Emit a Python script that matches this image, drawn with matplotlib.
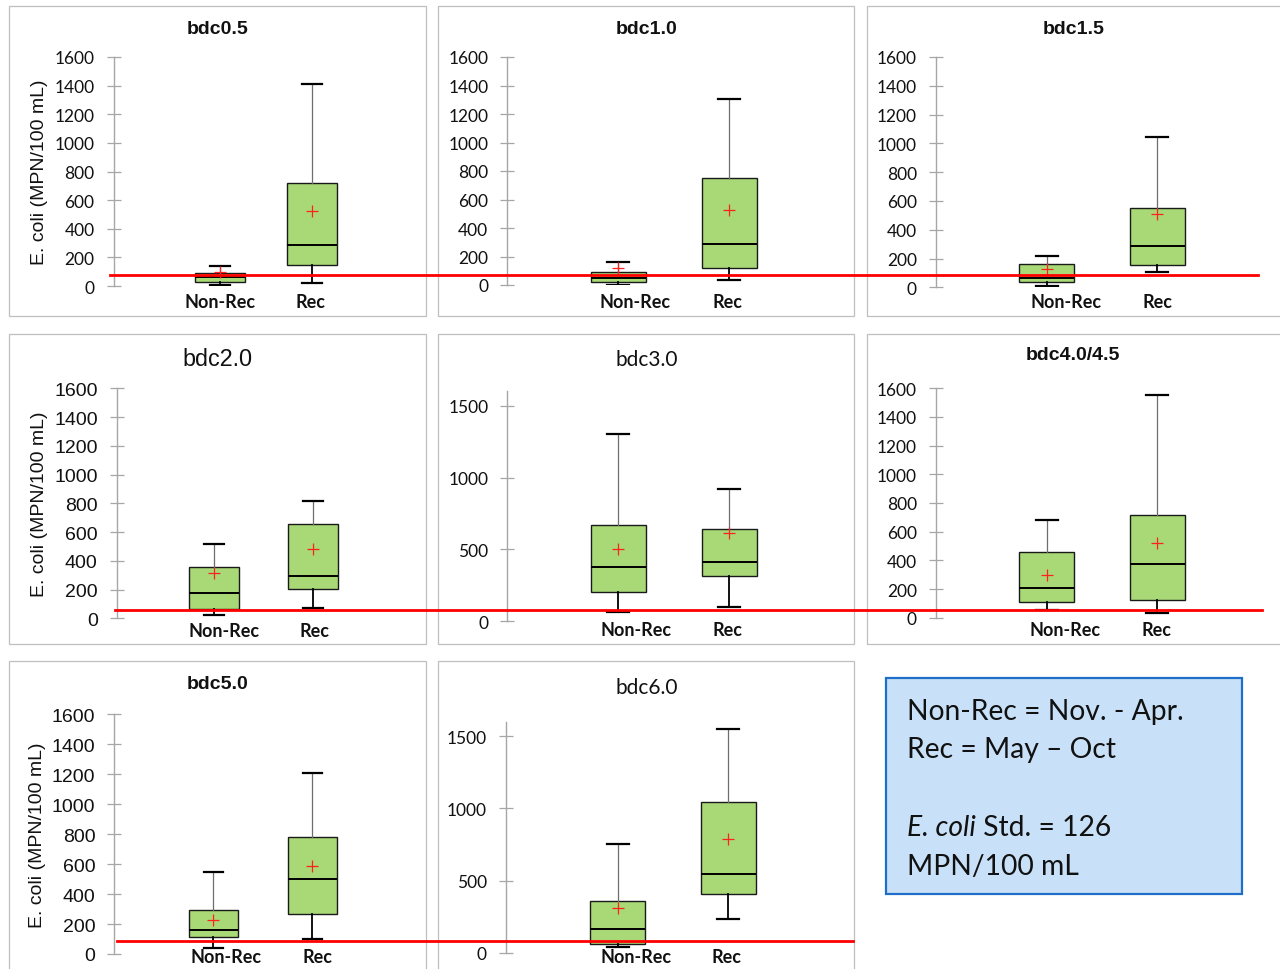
import matplotlib
matplotlib.use("Agg")
import matplotlib.pyplot as plt
from matplotlib.patches import Rectangle
from matplotlib.lines import Line2D
from matplotlib.transforms import ScaledTranslation, blended_transform_factory

# ---------------- data ----------------
categories = ["Non-Rec", "Rec"]
panel_titles = ["bdc0.5", "bdc1.0", "bdc1.5", "bdc2.0", "bdc3.0",
                "bdc4.0/4.5", "bdc5.0", "bdc6.0"]

nonrec_whislo = [9, 2, 11, 23, 67, 55, 42, 44]
nonrec_q1     = [26, 19, 39, 62, 201, 110, 111, 65]
nonrec_med    = [61, 47, 65, 178, 375, 205, 162, 165]
nonrec_q3     = [89, 89, 162, 357, 667, 460, 296, 360]
nonrec_whishi = [142, 161, 220, 515, 1301, 684, 547, 755]
nonrec_mean   = [100, 117, 127, 315, 504, 298, 229, 308]

rec_whislo = [23, 35, 108, 70, 97, 31, 100, 234]
rec_q1     = [145, 122, 155, 204, 312, 126, 267, 408]
rec_med    = [284, 290, 289, 296, 410, 377, 502, 546]
rec_q3     = [717, 749, 553, 658, 639, 714, 782, 1045]
rec_whishi = [1411, 1303, 1046, 814, 919, 1552, 1207, 1551]
rec_mean   = [524, 524, 511, 484, 613, 523, 587, 790]

y_max = 1600
y_tick_steps = [200, 200, 200, 200, 500, 200, 200, 500]
ylabel_text = "E. coli (MPN/100 mL)"

# reference (red) line level per row, in data units of that row's first panel
std_line_values = [78, 60, 87]

legend_lines = ["Non-Rec = Nov. - Apr.", "Rec = May \u2013 Oct"]
std_italic = "E. coli"
std_rest = " Std. = 126"
std_units = "MPN/100 mL"

# ---------------- layout (pixels) ----------------
W, H = 1280, 970
fig = plt.figure(figsize=(W / 100, H / 100), dpi=100)

def fx(x):
    return x / W

def fy(y):
    return 1 - y / H

ARIAL = "Liberation Sans"
CAL = "Lato"

panels = [
    dict(frame=(9.3, 6.7, 425.7, 316.7), L=113.5, y0=287, yt=58, c1=220, c2=312, bw=50,
         title=(29, ARIAL, "bold", 14), tf=(CAL, 12.5), d=16, dx=(0, -1), row=0, ylab=(40, ARIAL)),
    dict(frame=(438.3, 6.7, 854.3, 316.7), L=507.3, y0=286, yt=58, c1=618.3, c2=729, bw=55,
         title=(29, ARIAL, "bold", 14), tf=(CAL, 12.5), d=16.7, dx=(17, -2), row=0, ylab=None),
    dict(frame=(866.7, 6.7, 1290, 316.7), L=936, y0=288.3, yt=58, c1=1046.7, c2=1157.3, bw=55,
         title=(29, ARIAL, "bold", 14), tf=(CAL, 12.5), d=14.4, dx=(19, 0), row=0, ylab=None),
    dict(frame=(9.3, 335, 425.7, 645), L=116.7, y0=619.3, yt=389.3, c1=214.3, c2=312.7, bw=50,
         title=(359.3, ARIAL, "normal", 16.8), tf=(ARIAL, 14), d=12.4, dx=(10, 2), row=1, ylab=(39.3, ARIAL)),
    dict(frame=(438.3, 335, 854.3, 645), L=507.3, y0=622.3, yt=392.3, c1=618.3, c2=729, bw=55,
         title=(360, CAL, "normal", 15), tf=(CAL, 12.5), d=8.7, dx=(18, -2), row=1, ylab=None),
    dict(frame=(866.7, 335, 1290, 645), L=936, y0=618.7, yt=389.3, c1=1046.7, c2=1157.3, bw=55,
         title=(356, ARIAL, "bold", 14), tf=(CAL, 12.5), d=12.3, dx=(18, -1), row=1, ylab=None),
    dict(frame=(9.3, 662.3, 425.7, 990), L=114.3, y0=955, yt=715, c1=213.3, c2=312.3, bw=49,
         title=(684.3, ARIAL, "bold", 14), tf=(ARIAL, 14), d=2.7, dx=(13, 5), row=2, ylab=(37.3, ARIAL)),
    dict(frame=(438.3, 662.3, 854.3, 990), L=506, y0=954, yt=722.7, c1=617.7, c2=728.3, bw=55,
         title=(688.3, CAL, "normal", 15), tf=(CAL, 12.5), d=3.7, dx=(18, -2), row=2, ylab=None),
]

red_line_x = [(110, 1258), (115, 1262), (117, 853)]

BOX_FACE = "#A9D976"
AXIS_GREY = "#A6A6A6"

row_first_ax = {}

for i, p in enumerate(panels):
    x0, y0f, x1, y1f = p["frame"]
    fig.add_artist(Rectangle((fx(x0), fy(y1f)), (x1 - x0) / W, (y1f - y0f) / H,
                             transform=fig.transFigure, fill=False,
                             edgecolor="#BFBFBF", linewidth=0.9, zorder=1))

    L, R = p["L"], p["L"] + 290
    ax = fig.add_axes([fx(L), fy(p["y0"]), (R - L) / W, (p["y0"] - p["yt"]) / H])
    ax.patch.set_visible(False)
    s = p["c2"] - p["c1"]
    lo = 1 - (p["c1"] - L) / s
    hi = 1 + (R - p["c1"]) / s
    ax.set_xlim(lo, hi)
    ax.set_ylim(0, y_max)

    stats = [
        dict(whislo=nonrec_whislo[i], q1=nonrec_q1[i], med=nonrec_med[i], q3=nonrec_q3[i],
             whishi=nonrec_whishi[i], mean=nonrec_mean[i], fliers=[], label=categories[0]),
        dict(whislo=rec_whislo[i], q1=rec_q1[i], med=rec_med[i], q3=rec_q3[i],
             whishi=rec_whishi[i], mean=rec_mean[i], fliers=[], label=categories[1]),
    ]
    w = p["bw"] / s
    art = ax.bxp(stats, positions=[1, 2], widths=w, capwidths=0.4 * w,
                 patch_artist=True, showmeans=True, showfliers=False, manage_ticks=False,
                 boxprops=dict(facecolor=BOX_FACE, edgecolor="#1A1A1A", linewidth=1.0),
                 medianprops=dict(color="black", linewidth=1.4),
                 whiskerprops=dict(color="#333333", linewidth=1.0),
                 capprops=dict(color="black", linewidth=1.6),
                 meanprops=dict(marker="+", markeredgecolor="#FF2020", markersize=8,
                                markeredgewidth=0.9))
    # upper whiskers lighter grey, lower whiskers black
    for j, wl in enumerate(art["whiskers"]):
        if j % 2 == 1:
            wl.set_color("#6E6E6E")
            wl.set_linewidth(0.9)
        else:
            wl.set_color("black")
            wl.set_linewidth(1.3)

    for side in ("top", "right", "bottom"):
        ax.spines[side].set_visible(False)
    ax.spines["left"].set_color(AXIS_GREY)
    ax.spines["left"].set_linewidth(1.0)
    ax.set_yticks(list(range(0, y_max + 1, y_tick_steps[i])))
    ax.set_xticks([])
    ax.tick_params(axis="y", direction="inout", length=9.4, width=0.9, color=AXIS_GREY,
                   pad=9.0, labelsize=p["tf"][1], labelcolor="#111111")
    for lab in ax.get_yticklabels():
        lab.set_fontfamily(p["tf"][0])

    # category labels
    for k, cat in enumerate(categories):
        tr = ax.transData + ScaledTranslation(p["dx"][k] / 100, -p["d"] / 100, fig.dpi_scale_trans)
        ax.text(k + 1, 0, cat, transform=tr, ha="center", va="center",
                fontfamily=CAL, fontweight="bold", fontsize=13, color="#111111", clip_on=False)

    # title
    ty, tfam, tw, tsz = p["title"]
    cx = (x0 + min(x1, 1280)) / 2
    fig.text(fx(cx), fy(ty), panel_titles[i], ha="center", va="center", fontfamily=tfam,
             fontweight=tw, fontsize=tsz, color="#111111")

    if p["ylab"] is not None:
        ax.set_ylabel(ylabel_text, fontfamily=p["ylab"][1], fontsize=14, color="#111111")
        ax.yaxis.label.set(ha="center", va="center", rotation_mode="anchor")
        ax.yaxis.set_label_coords((p["ylab"][0] - L) / (R - L), 0.5)

    if p["row"] not in row_first_ax:
        row_first_ax[p["row"]] = ax

# red reference lines
for r, val in enumerate(std_line_values):
    ax0 = row_first_ax[r]
    tr = blended_transform_factory(fig.transFigure, ax0.transData)
    xa, xb = red_line_x[r]
    fig.add_artist(Line2D([fx(xa), fx(xb)], [val, val], transform=tr,
                          color="#FF0000", linewidth=2.0, zorder=5))

# legend text box
bx0, by0, bx1, by1 = 885.7, 679, 1242.3, 895
fig.add_artist(Rectangle((fx(bx0), fy(by1)), (bx1 - bx0) / W, (by1 - by0) / H,
                         transform=fig.transFigure, facecolor="#C9E1F8",
                         edgecolor="#1F6FC8", linewidth=1.6, zorder=1))
tx = fx(907.3)
fs_box = 20.3
fig.text(tx, fy(711.7), legend_lines[0], ha="left", va="center", fontfamily=CAL,
         fontsize=fs_box, color="#111111", zorder=3)
fig.text(tx, fy(750), legend_lines[1], ha="left", va="center", fontfamily=CAL,
         fontsize=fs_box, color="#111111", zorder=3)
t_it = fig.text(tx, fy(828.3), std_italic, ha="left", va="center", fontfamily=CAL,
                fontstyle="italic", fontsize=fs_box, color="#111111", zorder=3)
renderer = fig.canvas.get_renderer()
bb = t_it.get_window_extent(renderer=renderer)
fig.text(bb.x1 / W, fy(828.3), std_rest, ha="left", va="center", fontfamily=CAL,
         fontsize=fs_box, color="#111111", zorder=3)
fig.text(tx, fy(866.7), std_units, ha="left", va="center", fontfamily=CAL,
         fontsize=fs_box, color="#111111", zorder=3)

fig.savefig("out.png", dpi=100, facecolor="white")
